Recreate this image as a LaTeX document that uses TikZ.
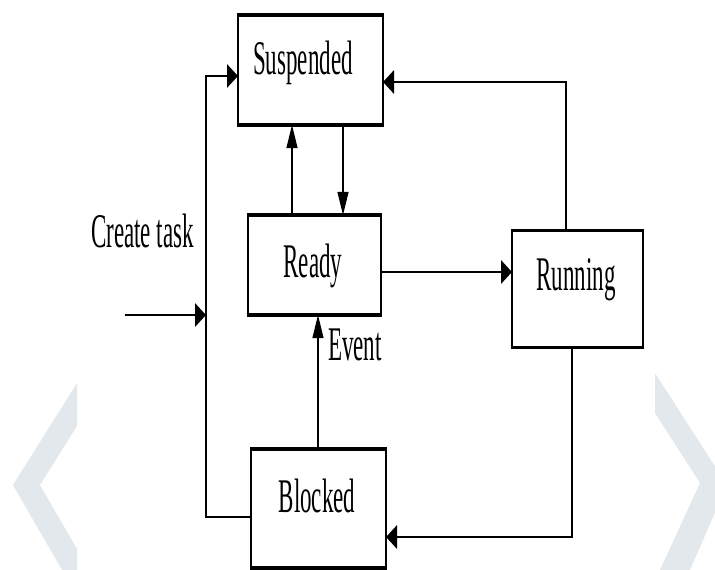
\documentclass[tikz,border=0pt]{standalone}
\usepackage{fontspec}
\setmainfont{Liberation Serif}
\usetikzlibrary{arrows.meta}
\definecolor{chevc}{RGB}{226,232,235}
\tikzset{
  box/.style={draw, line width=1.6pt, inner sep=0pt, outer sep=0pt},
  lbl/.style={inner sep=0pt, anchor=base, font=\fontsize{23}{23}\selectfont},
  conn/.style={line width=1.4pt},
  arr/.style={conn, -{Triangle[length=11pt,width=11pt]}},
  chev/.style={fill=chevc, draw=none},
  stretched/.style={transform canvas={yscale=2.1}, y=-0.47619pt}
}
\begin{document}
\begin{tikzpicture}[x=1pt,y=-1pt]
\useasboundingbox (0,0) rectangle (715,570);
% background chevrons
\begin{scope}
  \clip (0,0) rectangle (715,570);
  \fill[chev] (77,383) -- (13,485) -- (62,570) -- (77,570) -- (77,549) -- (40,485) -- (77,426) -- cycle;
  \fill[chev] (655,373) -- (727,485) -- (690,570) -- (660,570) -- (700,483) -- (655,413) -- cycle;
\end{scope}
\begin{scope}[stretched]
% boxes
\node[box, minimum width=145pt, minimum height=52.38pt] (susp) at (310.5,70) {};
\node[box, minimum width=133pt, minimum height=47.62pt] (ready) at (314.5,265) {};
\node[box, minimum width=131pt, minimum height=55.71pt] (run) at (577.5,289) {};
\node[box, minimum width=135pt, minimum height=56.67pt] (block) at (318.5,508.5) {};
% labels
\node[lbl] (suspT) at (303,74) {Suspended};
\node[lbl] (readyT) at (313,277) {Ready};
\node[lbl] (runT) at (576,290) {Running};
\node[lbl] (blockT) at (317,512) {Blocked};
\node[lbl] (createT) at (142.5,247) {Create task};
\node[lbl] (eventT) at (355,360) {Event};
% helper coordinates
\coordinate (colL) at (206,0);
\coordinate (colUp) at (292,0);
\coordinate (colDn) at (343,0);
\coordinate (colEv) at (318,0);
\coordinate (colRt) at (566,0);
\coordinate (colRb) at (572,0);
\coordinate (rowSL) at (0,76);
\coordinate (rowSR) at (0,82);
\coordinate (rowRR) at (0,272);
\coordinate (rowBL) at (0,517);
\coordinate (rowBR) at (0,537);
\coordinate (ctStart) at (125,315);
\coordinate (ctEnd) at (206,315);
% connectors
\draw[arr] (ctStart) -- (ctEnd);
\draw[arr] (block.west |- rowBL) -| (colL |- rowSL) -- (susp.west |- rowSL);
\draw[arr] (ready.north -| colUp) -- (susp.south -| colUp);
\draw[arr] (susp.south -| colDn) -- (ready.north -| colDn);
\draw[arr] (ready.east |- rowRR) -- (run.west |- rowRR);
\draw[arr] (run.north -| colRt) |- (susp.east |- rowSR);
\draw[arr] (run.south -| colRb) |- (block.east |- rowBR);
\draw[arr] (block.north -| colEv) -- (ready.south -| colEv);
\end{scope}
\end{tikzpicture}
\end{document}
